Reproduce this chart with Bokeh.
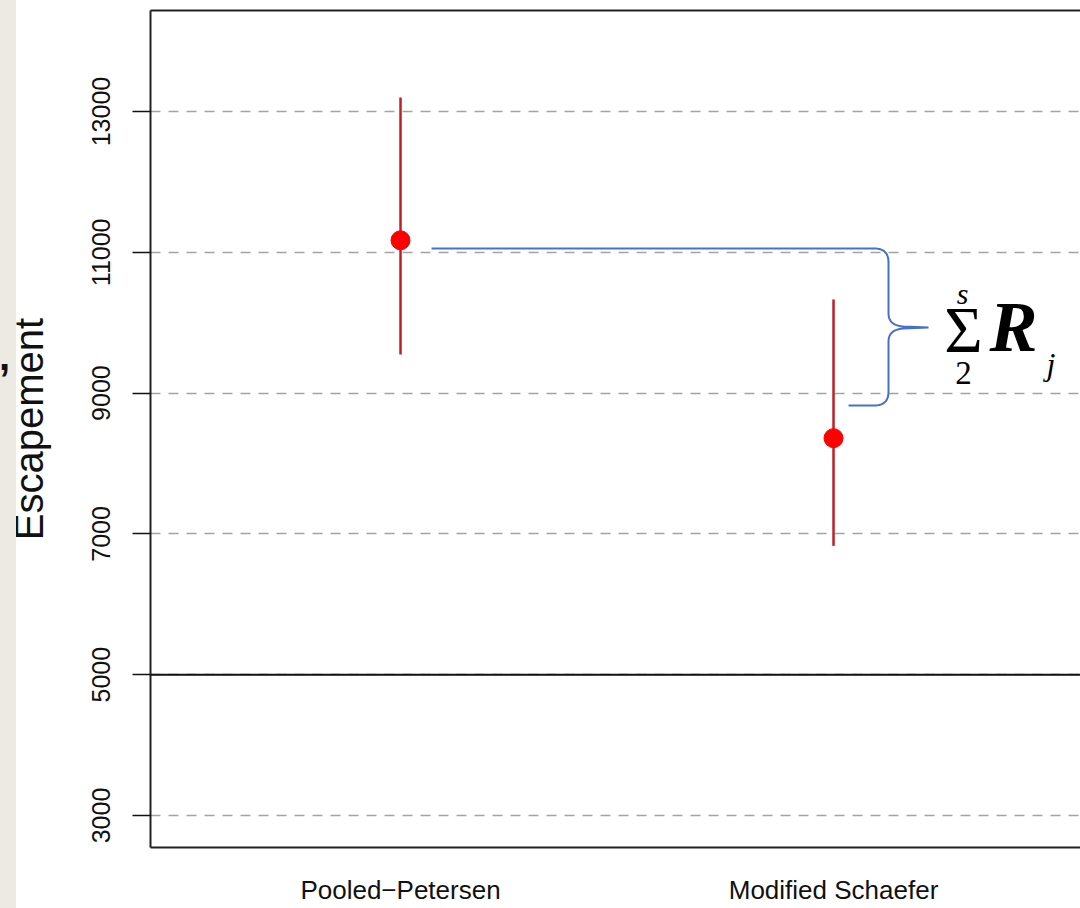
import numpy as np
from bokeh.plotting import figure
from bokeh.models import Range1d, FixedTicker, LinearAxis, Span, Label, Div
from bokeh.layouts import column
from bokeh.embed import file_html
from bokeh.resources import INLINE

# ---------------- data ----------------
methods = ["Pooled\u2212Petersen", "Modified Schaefer"]
estimates = [11170, 8360]
lower = [9550, 6830]
upper = [13200, 10330]
y_ticks = [3000, 5000, 7000, 9000, 11000, 13000]
reference_level = 5000
y_label = "Escapement"

x_pos = [i + 1 for i in range(len(methods))]

# ---------------- figure ----------------
p = figure(width=1080, height=908, output_backend="svg", toolbar_location=None,
           x_range=Range1d(0.4226, 2.5704), y_range=Range1d(2545, 14435),
           min_border_left=150, min_border_right=0, min_border_top=10,
           min_border_bottom=61)
p.outline_line_color = None
p.background_fill_color = "white"
p.border_fill_color = "white"

p.xgrid.visible = False
p.ygrid.ticker = FixedTicker(ticks=y_ticks)
p.ygrid.grid_line_color = "#A3A3A3"
p.ygrid.grid_line_dash = "10 8"
p.ygrid.grid_line_width = 1.5

yax = p.yaxis[0]
yax.ticker = FixedTicker(ticks=y_ticks)
yax.major_label_orientation = "vertical"
yax.major_tick_out = 18
yax.major_tick_in = 0
yax.major_tick_line_width = 1.5
yax.major_tick_line_color = "#111111"
yax.minor_tick_line_color = None
yax.axis_line_width = 2
yax.axis_line_color = "#222222"
yax.major_label_text_font = "Liberation Sans"
yax.major_label_text_font_size = "25px"
yax.major_label_text_color = "#111111"
yax.major_label_standoff = 22
yax.axis_label = y_label
yax.axis_label_text_font = "Liberation Sans"
yax.axis_label_text_font_size = "40px"
yax.axis_label_text_font_style = "normal"
yax.axis_label_text_color = "#111111"
yax.axis_label_standoff = 39

xax = p.xaxis[0]
xax.ticker = FixedTicker(ticks=x_pos)
xax.major_label_overrides = {x: m for x, m in zip(x_pos, methods)}
xax.major_tick_line_color = None
xax.minor_tick_line_color = None
xax.major_tick_out = 0
xax.major_tick_in = 0
xax.axis_line_width = 2
xax.axis_line_color = "#222222"
xax.major_label_standoff = 27
xax.major_label_text_font = "Liberation Sans"
xax.major_label_text_font_size = "26px"
xax.major_label_text_color = "#111111"

top = LinearAxis(ticker=FixedTicker(ticks=[]), major_tick_line_color=None,
                 minor_tick_line_color=None, major_label_text_font_size="0px",
                 axis_line_width=2, axis_line_color="#222222")
p.add_layout(top, "above")

# reference line
p.add_layout(Span(location=reference_level, dimension="width",
                  line_color="#111111", line_width=2))

# error bars and points
p.segment(x0=x_pos, y0=lower, x1=x_pos, y1=upper, line_color="#BE1E26", line_width=2.5)
p.scatter(x=x_pos, y=estimates, size=19, fill_color="#FF0000", line_color="#FF0000")

# ---------------- brace annotation ----------------
def dx(px):
    return 1 + (px - 400) / 433.0

def dy(py):
    return 3000 + (815 - py) / 0.0704

def quad(p0, c, p1, n=12):
    t = np.linspace(0, 1, n)
    xs = (1 - t) ** 2 * p0[0] + 2 * (1 - t) * t * c[0] + t ** 2 * p1[0]
    ys = (1 - t) ** 2 * p0[1] + 2 * (1 - t) * t * c[1] + t ** 2 * p1[1]
    return list(zip(xs, ys))

pts = [(431, 248)]
pts += quad((874, 248), (888, 248), (888, 262))
pts += quad((888, 313), (888, 325), (903, 326))
pts += [(928, 327)]
pts += quad((903, 328), (888, 329), (888, 341))
pts += quad((888, 391), (888, 405), (874, 405))
pts += [(848, 405)]
bx = [dx(a) for a, b in pts]
by = [dy(b) for a, b in pts]
p.line(bx, by, line_color="#4472C4", line_width=2)

serif = "Liberation Serif"

def math_label(px, base_py, text, size, style="normal", align="left"):
    # shift so that the glyph baseline lands at base_py
    p.add_layout(Label(x=dx(px), y=dy(base_py - 0.37 * size), text=text,
                       text_align=align, text_baseline="alphabetic",
                       text_font=serif, text_font_style=style,
                       text_font_size=f"{size}px", text_color="black"))

math_label(963, 353, "\u03a3", 66, align="center")
math_label(962, 304, "s", 30, style="italic", align="center")
math_label(963, 385, "2", 33, align="center")
math_label(989, 353, "R", 72, style="bold italic")
math_label(1046, 375, "j", 32, style="italic")

# ---------------- left slide strip (fixed overlay) ----------------
strip = Div(text='<div style="position:fixed;left:0;top:0;width:16px;height:908px;'
                 'overflow:hidden;background:#ECEAE2;z-index:50;">'
                 '<span style="position:absolute;left:-1px;top:336px;'
                 'font:bold 40px/40px \'Liberation Sans\';color:#111;">,</span></div>',
            width=0, height=0, margin=0)

layout = column(p, strip, spacing=0)
open("out.html", "w").write(file_html(layout, INLINE))
